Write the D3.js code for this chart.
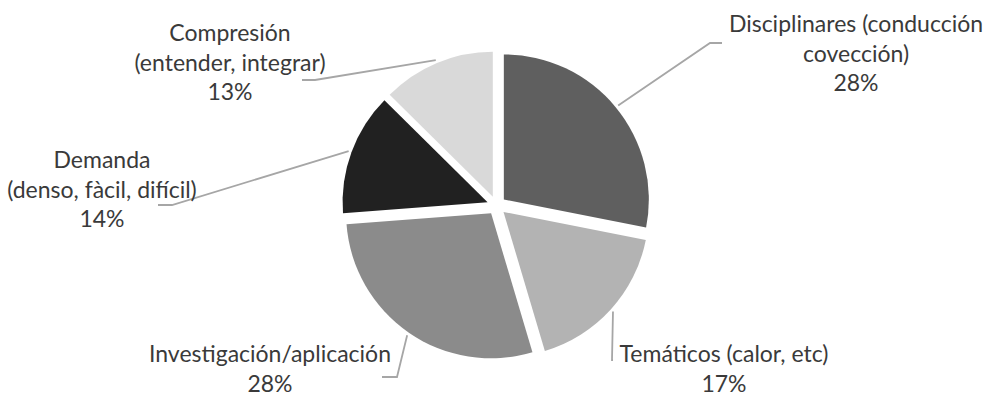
<!DOCTYPE html>
<html>
<head>
<meta charset="utf-8">
<script src="https://cdn.jsdelivr.net/npm/d3@7"></script>
<style>
  html, body { margin: 0; padding: 0; background: #ffffff; }
  svg { display: block; }
</style>
</head>
<body>
<svg id="chart" width="989" height="396"></svg>
<script>
// ---- data ----
const categories = [
  ["Disciplinares (conducción", "covección)"],
  ["Temáticos (calor, etc)"],
  ["Investigación/aplicación"],
  ["Demanda", "(denso, fàcil, difícil)"],
  ["Compresión", "(entender, integrar)"]
];
const values = [28.1, 17.3, 28.4, 13.6, 12.6];
const colors = ["#5f5f5f", "#b3b3b3", "#8b8b8b", "#212121", "#d9d9d9"];

// ---- layout (label placement, not data) ----
const labelPos = [
  { x: 856, y: 32 },
  { x: 724, y: 362 },
  { x: 270, y: 362 },
  { x: 102, y: 168 },
  { x: 230, y: 41 }
];
const leaderPts = [
  [[710, 43], [722, 43]],
  [[612, 360], [613, 360]],
  [[397, 377], [382, 377]],
  [[172, 205], [158, 205]],
  [[315, 80], [302, 80]]
];

const W = 989, H = 396;
const cx = 496.5, cy = 205.5, R = 145, explode = 9.5;
const lineH = 29.5;

const svg = d3.select("#chart");
const g = svg.append("g").attr("transform", `translate(${cx},${cy})`);

const pie = d3.pie().sort(null).value(d => d)(values);
const arc = d3.arc().innerRadius(0).outerRadius(R);
const total = d3.sum(values);

pie.forEach((p, i) => {
  const mid = (p.startAngle + p.endAngle) / 2;
  const ox = Math.sin(mid) * explode, oy = -Math.cos(mid) * explode;
  g.append("path")
    .attr("d", arc(p))
    .attr("transform", `translate(${ox},${oy})`)
    .attr("fill", colors[i]);

  // leader line from arc edge
  const sx = cx + ox + Math.sin(mid) * (R + 3);
  const sy = cy + oy - Math.cos(mid) * (R + 3);
  const pts = [[sx, sy]].concat(leaderPts[i]);
  svg.append("path")
    .attr("d", d3.line()(pts))
    .attr("fill", "none")
    .attr("stroke", "#a6a6a6")
    .attr("stroke-width", 1.8);

  // label
  const lines = categories[i].concat([Math.round(values[i] / total * 100) + "%"]);
  const t = svg.append("text")
    .attr("x", labelPos[i].x)
    .attr("y", labelPos[i].y)
    .attr("text-anchor", "middle")
    .attr("font-family", "Lato, 'Open Sans', sans-serif")
    .attr("font-size", 23)
    .attr("fill", "#3a3a3a");
  lines.forEach((ln, k) => {
    t.append("tspan")
      .attr("x", labelPos[i].x)
      .attr("dy", k === 0 ? 0 : lineH)
      .text(ln);
  });
});
</script>
</body>
</html>
